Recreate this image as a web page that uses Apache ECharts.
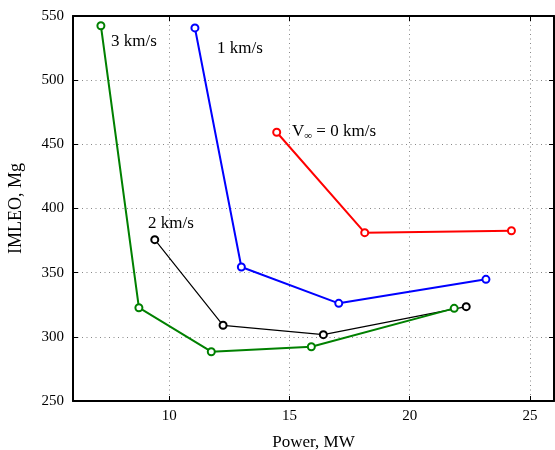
<!DOCTYPE html>
<html>
<head>
<meta charset="utf-8">
<script src="https://cdn.jsdelivr.net/npm/echarts@6/dist/echarts.min.js"></script>
<style>
  html, body { margin: 0; padding: 0; background: #fff; }
  #main { width: 555px; height: 450px; }
</style>
</head>
<body>
<div id="main"></div>
<script>
// values (Power, MW / IMLEO, Mg)
const powerV0 = [14.47, 18.13, 24.23];
const imleoV0 = [459.4, 381.2, 382.7];
const power1 = [11.07, 13.0, 17.05, 23.17];
const imleo1 = [540.7, 354.4, 326.1, 344.8];
const power2 = [9.40, 12.24, 16.41, 22.35];
const imleo2 = [375.7, 309.0, 301.7, 323.5];
const power3 = [7.16, 8.74, 11.75, 15.91, 21.85];
const imleo3 = [542.4, 322.7, 288.4, 292.3, 322.2];
const xTicks = [10, 15, 20, 25];

const font = 'Liberation Serif';
const pairs = (xs, ys) => xs.map((x, i) => [x, ys[i]]);

function line(name, xs, ys, color, width) {
  return {
    name: name,
    type: 'line',
    data: pairs(xs, ys),
    symbol: 'emptyCircle',
    symbolSize: 7,
    showAllSymbol: true,
    lineStyle: { color: color, width: width },
    itemStyle: { color: color, borderColor: color, borderWidth: width },
    emphasis: { disabled: true },
    animation: false
  };
}

const chart = echarts.init(document.getElementById('main'));
chart.setOption({
  animation: false,
  grid: { left: 73, right: 1, top: 16, bottom: 49, outerBoundsMode: 'none' },
  xAxis: [{
    type: 'value', min: 6, max: 26,
    name: 'Power, MW', nameLocation: 'middle', nameGap: 33,
    nameTextStyle: { fontFamily: font, fontSize: 17, color: '#000' },
    axisLine: { lineStyle: { color: '#000', width: 2 } },
    axisTick: { inside: true, length: 5, customValues: xTicks, lineStyle: { color: '#000' } },
    axisLabel: { customValues: xTicks, fontFamily: font, fontSize: 15, color: '#000', margin: 8 },
    splitLine: { show: true, lineStyle: { color: '#888', type: [1, 3.5], width: 1 } }
  }, {
    type: 'value', min: 6, max: 26, position: 'top',
    axisLine: { lineStyle: { color: '#000', width: 2 } },
    axisTick: { inside: true, length: 5, customValues: xTicks, lineStyle: { color: '#000' } },
    axisLabel: { show: false },
    splitLine: { show: false }
  }],
  yAxis: [{
    type: 'value', min: 250, max: 550, interval: 50,
    name: 'IMLEO, Mg', nameLocation: 'middle', nameGap: 48,
    nameTextStyle: { fontFamily: font, fontSize: 18, color: '#000' },
    axisLine: { show: true, lineStyle: { color: '#000', width: 2 } },
    axisTick: { show: true, inside: true, length: 5, lineStyle: { color: '#000' } },
    axisLabel: { fontFamily: font, fontSize: 15, color: '#000', margin: 9 },
    splitLine: { show: true, lineStyle: { color: '#888', type: [1, 3.5], width: 1 } }
  }, {
    type: 'value', min: 250, max: 550, interval: 50, position: 'right',
    axisLine: { show: true, lineStyle: { color: '#000', width: 2 } },
    axisTick: { show: true, inside: true, length: 5, lineStyle: { color: '#000' } },
    axisLabel: { show: false },
    splitLine: { show: false }
  }],
  series: [
    line('V0', powerV0, imleoV0, '#ff0000', 2),
    line('1 km/s', power1, imleo1, '#0000ff', 2),
    line('2 km/s', power2, imleo2, '#000000', 1.2),
    line('3 km/s', power3, imleo3, '#008000', 2)
  ],
  graphic: [
    { type: 'text', style: { text: '3 km/s', x: 111, y: 42, verticalAlign: 'middle', font: '17px "Liberation Serif"', fill: '#000' } },
    { type: 'text', style: { text: '1 km/s', x: 217, y: 49, verticalAlign: 'middle', font: '17px "Liberation Serif"', fill: '#000' } },
    { type: 'text', style: { text: '2 km/s', x: 148, y: 224, verticalAlign: 'middle', font: '17px "Liberation Serif"', fill: '#000' } },
    { type: 'text', style: {
      text: 'V{sub|∞} = 0 km/s', x: 292, y: 132, verticalAlign: 'middle',
      font: '17px "Liberation Serif"', fill: '#000',
      rich: { sub: { fontFamily: font, fontSize: 11, verticalAlign: 'bottom', padding: [8, 0, 0, 0] } }
    } }
  ]
});
</script>
</body>
</html>
